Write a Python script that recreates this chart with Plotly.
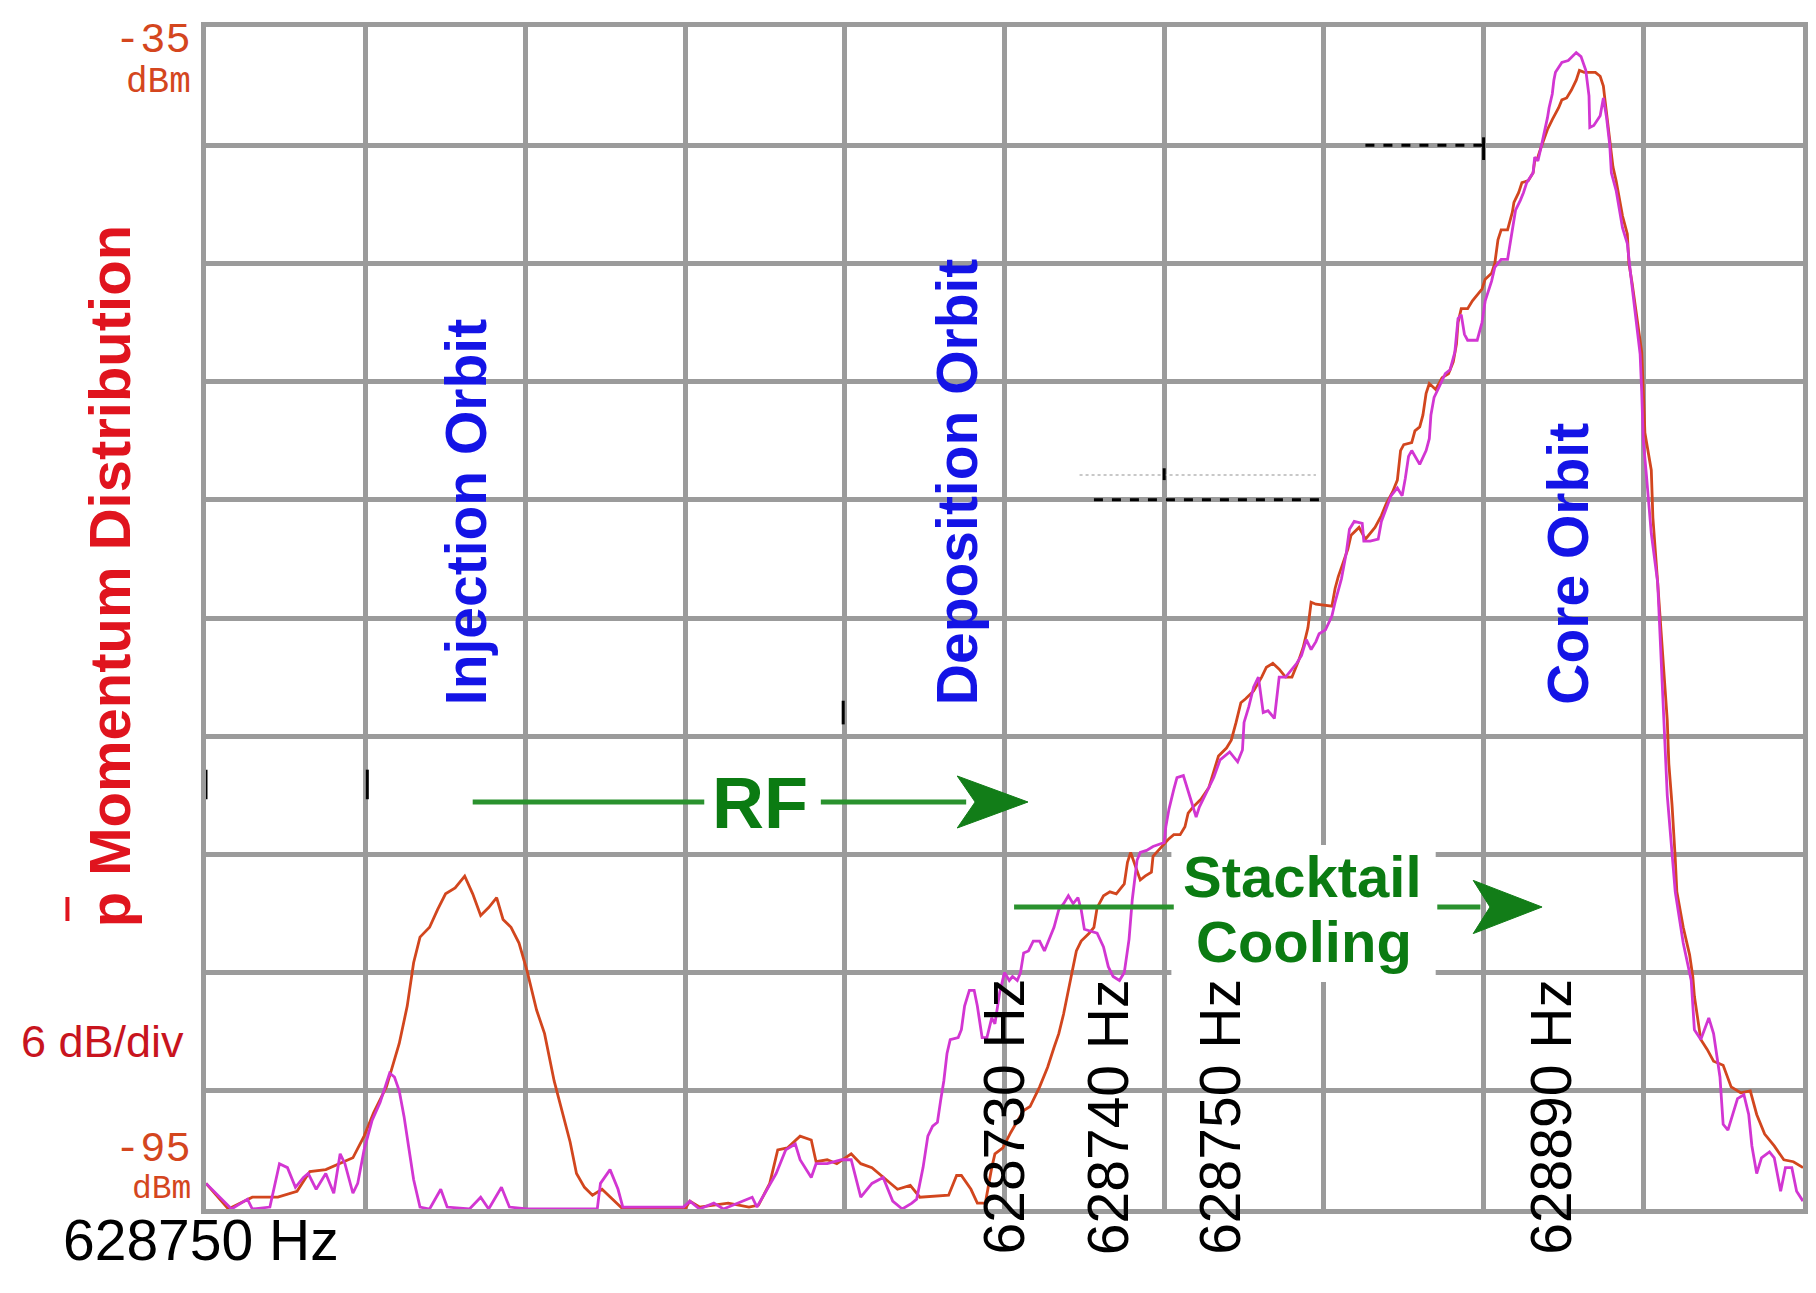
import plotly.graph_objects as go

# Spectrum-analyser trace of the antiproton stack.
# Horizontal: screen divisions (10 div across); vertical: level in dBm (6 dB/div).

orange_x = [0.00, 0.14, 0.29, 0.45, 0.57, 0.65, 0.75, 0.84, 0.92, 0.99, 1.05, 1.13, 1.21, 1.26, 1.30,
            1.34, 1.40, 1.45, 1.50, 1.56, 1.62, 1.67, 1.72, 1.77, 1.82, 1.86, 1.91, 1.96, 2.01, 2.07,
            2.12, 2.18, 2.23, 2.28, 2.32, 2.37, 2.42, 2.48, 2.61, 3.00, 3.03, 3.09, 3.18, 3.27, 3.40,
            3.46, 3.53, 3.58, 3.64, 3.72, 3.79, 3.82, 3.89, 3.95, 4.04, 4.10, 4.17, 4.24, 4.33, 4.41,
            4.47, 4.65, 4.70, 4.73, 4.79, 4.83, 4.88, 4.92, 4.94, 4.99, 5.04, 5.12, 5.16, 5.22, 5.27,
            5.31, 5.34, 5.37, 5.40, 5.42, 5.45, 5.48, 5.53, 5.56, 5.58, 5.62, 5.66, 5.70, 5.75, 5.77,
            5.79, 5.81, 5.85, 5.88, 5.92, 5.93, 6.00, 6.03, 6.06, 6.10, 6.13, 6.15, 6.18, 6.23, 6.28,
            6.31, 6.34, 6.39, 6.42, 6.45, 6.48, 6.51, 6.56, 6.61, 6.64, 6.68, 6.72, 6.76, 6.80, 6.84,
            6.87, 6.90, 6.92, 6.95, 7.05, 7.07, 7.09, 7.12, 7.15, 7.17, 7.22, 7.26, 7.32, 7.36, 7.39,
            7.43, 7.46, 7.48, 7.50, 7.55, 7.57, 7.60, 7.62, 7.64, 7.66, 7.70, 7.74, 7.78, 7.81, 7.83,
            7.84, 7.86, 7.90, 7.93, 7.96, 7.99, 8.01, 8.05, 8.07, 8.09, 8.11, 8.15, 8.18, 8.19, 8.22,
            8.24, 8.28, 8.31, 8.32, 8.34, 8.36, 8.38, 8.40, 8.43, 8.45, 8.47, 8.49, 8.52, 8.55, 8.58,
            8.60, 8.63, 8.67, 8.70, 8.73, 8.75, 8.76, 8.78, 8.79, 8.81, 8.83, 8.85, 8.87, 8.90, 8.91,
            8.93, 8.95, 8.97, 8.99, 9.00, 9.01, 9.05, 9.06, 9.09, 9.11, 9.13, 9.15, 9.16, 9.18, 9.20,
            9.21, 9.25, 9.29, 9.31, 9.32, 9.36, 9.40, 9.44, 9.50, 9.55, 9.61, 9.67, 9.71, 9.76, 9.82,
            9.88, 9.94, 10.00]
orange_y = [-93.7, -95.0, -94.4, -94.4, -94.1, -93.1, -93.0, -92.7, -92.4, -91.3, -90.1, -88.8, -86.6, -84.7, -82.5,
            -81.2, -80.7, -79.8, -79.0, -78.7, -78.1, -79.0, -80.1, -79.7, -79.2, -80.3, -80.7, -81.5, -82.9, -84.9,
            -86.1, -88.5, -90.1, -91.6, -93.2, -93.9, -94.3, -94.0, -95.0, -95.0, -94.6, -94.9, -94.8, -94.7, -94.9,
            -94.8, -93.7, -92.0, -91.9, -91.3, -91.5, -92.6, -92.5, -92.7, -92.2, -92.7, -92.9, -93.4, -94.0, -93.8,
            -94.4, -94.3, -93.3, -93.3, -94.0, -94.7, -94.7, -92.9, -92.2, -91.9, -91.1, -90.0, -89.8, -88.8, -87.8,
            -86.8, -86.1, -85.1, -84.0, -83.1, -81.9, -81.4, -81.0, -80.7, -79.7, -79.1, -78.9, -79.0, -78.5, -77.4,
            -76.9, -77.4, -78.3, -78.1, -77.9, -77.1, -76.5, -76.2, -76.0, -76.0, -75.6, -74.9, -74.6, -74.2, -73.6,
            -72.8, -72.0, -71.6, -71.2, -70.3, -69.3, -69.1, -68.7, -68.0, -67.5, -67.3, -67.6, -68.0, -68.0, -67.2,
            -66.5, -65.5, -64.2, -64.3, -64.4, -63.5, -62.9, -62.2, -61.5, -60.8, -60.4, -61.0, -60.4, -59.8, -59.2,
            -58.6, -58.0, -56.5, -56.2, -56.1, -55.5, -55.3, -54.7, -53.6, -53.1, -53.4, -52.8, -52.6, -52.0, -51.1,
            -50.0, -49.3, -49.3, -48.9, -48.6, -48.3, -47.8, -47.5, -47.0, -45.8, -45.3, -45.3, -44.4, -43.9, -43.4,
            -42.9, -42.8, -42.4, -41.8, -41.6, -41.1, -40.6, -40.2, -39.7, -39.4, -39.1, -38.7, -38.6, -38.2, -37.7,
            -37.2, -37.3, -37.3, -37.3, -37.5, -38.0, -38.7, -40.1, -40.7, -42.1, -42.8, -43.8, -44.6, -45.5, -47.0,
            -48.0, -49.2, -50.2, -51.5, -53.4, -55.6, -57.5, -59.9, -63.2, -65.6, -68.0, -70.2, -72.4, -74.5, -77.2,
            -78.9, -80.7, -82.1, -83.2, -84.2, -86.4, -86.9, -87.5, -87.7, -88.8, -89.1, -89.0, -90.2, -91.2, -91.8,
            -92.5, -92.6, -92.9]

magenta_x = [0.00, 0.16, 0.26, 0.29, 0.40, 0.46, 0.51, 0.56, 0.61, 0.64, 0.69, 0.75, 0.80, 0.84, 0.87,
             0.92, 0.95, 0.99, 1.04, 1.09, 1.15, 1.18, 1.21, 1.24, 1.27, 1.30, 1.34, 1.40, 1.47, 1.51,
             1.65, 1.72, 1.77, 1.85, 1.90, 2.01, 2.45, 2.47, 2.53, 2.58, 2.61, 2.99, 3.03, 3.09, 3.18,
             3.24, 3.42, 3.45, 3.57, 3.63, 3.69, 3.72, 3.79, 3.82, 3.89, 3.98, 4.04, 4.10, 4.17, 4.24,
             4.30, 4.36, 4.42, 4.45, 4.49, 4.52, 4.55, 4.58, 4.60, 4.62, 4.64, 4.66, 4.71, 4.73, 4.75,
             4.78, 4.81, 4.83, 4.86, 4.89, 4.92, 4.94, 4.97, 5.00, 5.03, 5.05, 5.08, 5.10, 5.12, 5.15,
             5.18, 5.22, 5.25, 5.28, 5.31, 5.34, 5.37, 5.40, 5.43, 5.46, 5.48, 5.50, 5.58, 5.62, 5.65,
             5.68, 5.72, 5.75, 5.78, 5.80, 5.82, 5.83, 5.85, 5.89, 5.93, 6.00, 6.01, 6.03, 6.06, 6.08,
             6.12, 6.16, 6.20, 6.22, 6.26, 6.31, 6.35, 6.41, 6.46, 6.49, 6.50, 6.53, 6.56, 6.59, 6.62,
             6.65, 6.69, 6.72, 6.76, 6.83, 6.86, 6.89, 6.92, 6.95, 6.97, 7.01, 7.05, 7.07, 7.11, 7.14,
             7.16, 7.19, 7.24, 7.25, 7.29, 7.34, 7.36, 7.39, 7.42, 7.46, 7.49, 7.51, 7.53, 7.55, 7.57,
             7.60, 7.64, 7.66, 7.67, 7.69, 7.72, 7.76, 7.79, 7.82, 7.84, 7.86, 7.88, 7.90, 7.96, 7.99,
             8.01, 8.05, 8.07, 8.11, 8.15, 8.18, 8.20, 8.23, 8.25, 8.27, 8.31, 8.32, 8.34, 8.36, 8.38,
             8.40, 8.41, 8.43, 8.44, 8.45, 8.49, 8.53, 8.58, 8.61, 8.64, 8.66, 8.665, 8.69, 8.73, 8.75,
             8.77, 8.79, 8.80, 8.83, 8.87, 8.90, 8.92, 8.94, 8.96, 8.98, 8.99, 9.00, 9.02, 9.05, 9.09,
             9.11, 9.15, 9.20, 9.25, 9.30, 9.32, 9.36, 9.41, 9.44, 9.48, 9.50, 9.53, 9.56, 9.59, 9.63,
             9.66, 9.68, 9.71, 9.74, 9.79, 9.82, 9.86, 9.89, 9.93, 9.96, 10.00]
magenta_y = [-93.7, -95.0, -94.5, -95.0, -94.9, -92.7, -92.9, -93.9, -93.4, -93.2, -94.0, -93.2, -94.2, -92.2, -92.7,
             -94.2, -93.7, -92.0, -90.5, -89.6, -88.1, -88.3, -89.0, -90.3, -91.9, -93.5, -94.9, -95.0, -94.0, -94.9,
             -95.0, -94.4, -95.0, -93.9, -94.9, -95.0, -95.0, -93.7, -93.0, -94.0, -94.9, -94.9, -94.6, -95.0, -94.7,
             -95.0, -94.4, -94.9, -93.2, -92.0, -91.7, -92.5, -93.4, -92.7, -92.7, -92.5, -92.5, -94.4, -93.7, -93.4,
             -94.6, -95.0, -94.7, -94.5, -92.9, -91.3, -90.8, -90.6, -89.5, -88.5, -87.1, -86.4, -86.3, -85.9, -84.7,
             -83.9, -83.9, -84.7, -86.3, -86.3, -85.3, -85.6, -84.0, -83.0, -83.4, -83.2, -83.4, -83.0, -82.0, -81.9,
             -81.4, -81.4, -81.9, -81.3, -80.7, -79.8, -79.5, -79.1, -79.5, -79.2, -79.8, -80.8, -81.0, -81.7, -82.7,
             -83.2, -83.4, -83.0, -81.3, -79.3, -78.1, -77.3, -76.9, -76.8, -76.6, -76.4, -75.6, -74.7, -73.7, -73.1,
             -73.0, -74.0, -75.1, -74.6, -73.9, -73.1, -72.2, -71.8, -72.3, -71.7, -70.3, -69.5, -68.5, -68.0, -69.8,
             -69.7, -70.1, -68.0, -68.0, -67.3, -66.9, -66.1, -66.6, -66.2, -65.8, -65.6, -64.9, -64.2, -63.0, -61.7,
             -60.5, -60.1, -60.2, -61.1, -61.1, -61.0, -60.1, -59.5, -58.8, -58.4, -58.8, -57.9, -56.8, -56.5, -56.8,
             -57.2, -56.5, -55.9, -54.7, -53.8, -53.3, -52.6, -52.4, -51.5, -49.8, -49.6, -50.6, -50.9, -50.9, -50.0,
             -48.9, -47.9, -47.2, -46.8, -46.8, -45.3, -44.3, -43.8, -43.4, -42.9, -42.4, -41.6, -41.8, -41.1, -40.4,
             -39.6, -39.1, -38.4, -37.7, -37.3, -36.8, -36.7, -36.3, -36.5, -37.2, -38.5, -40.1, -40.0, -39.5, -38.6,
             -39.6, -41.0, -42.4, -43.3, -45.2, -46.0, -47.5, -48.8, -50.0, -51.6, -53.5, -56.0, -57.8, -60.7, -63.2,
             -67.0, -74.0, -78.9, -81.5, -83.4, -85.9, -86.4, -85.3, -86.1, -88.3, -90.7, -91.0, -90.2, -89.4, -89.2,
             -90.2, -91.8, -93.2, -92.4, -92.1, -92.4, -94.1, -92.9, -92.9, -94.1, -94.6]

# Rotated frequency markers along the bottom
marker_labels = ["628730 Hz", "628740 Hz", "628750 Hz", "628890 Hz"]
marker_pos_px = [1006, 1111, 1223, 1555]

GRID = "#9b9b9b"
SANS = "Liberation Sans, Arial, sans-serif"
MONO = "Liberation Mono, Courier New, monospace"
ORANGE = "#d2461e"
MAGENTA = "#d236d2"
BLUE = "#1414e6"
GREEN_TXT = "#0b7b12"
GREEN_LINE = "#2a922e"
GREEN_HEAD = "#127d18"
RED_TXT = "#d4461e"

# plot frame in page pixels
L, T, W, H = 206, 27, 1602, 1182


def paper(xp, yp):
    return (xp - L) / W, (T + H - yp) / H


fig = go.Figure()
fig.add_trace(go.Scatter(x=orange_x, y=orange_y, mode="lines",
                         line=dict(color=ORANGE, width=2.8), hoverinfo="skip"))
fig.add_trace(go.Scatter(x=magenta_x, y=magenta_y, mode="lines",
                         line=dict(color=MAGENTA, width=2.8), hoverinfo="skip"))


def text(t, xp, yp, size, color, family=SANS, angle=0, xanchor="center", yanchor="middle"):
    xx, yy = paper(xp, yp)
    fig.add_annotation(text=t, x=xx, y=yy, xref="paper", yref="paper", showarrow=False,
                       textangle=angle, xanchor=xanchor, yanchor=yanchor, borderpad=0,
                       font=dict(family=family, size=size, color=color))


# level scale labels
text("-35", 192, 41, 42, RED_TXT, MONO, xanchor="right")
text("dBm", 192, 82, 36, RED_TXT, MONO, xanchor="right")
text("-95", 192, 1150, 42, RED_TXT, MONO, xanchor="right")
text("dBm", 192, 1189, 33, RED_TXT, MONO, xanchor="right")
text("6 dB/div", 185, 1041, 45, "#c8141e", xanchor="right")
text("628750 Hz", 62, 1240, 57, "black", xanchor="left")

# vertical title
text("<b>p Momentum Distribution</b>", 109, 576, 58, "#e0141e", angle=-90)

# orbit names
text("<b>Injection Orbit</b>", 467, 706, 57, BLUE, angle=-90, yanchor="bottom")
text("<b>Deposition Orbit</b>", 960, 706, 57, BLUE, angle=-90, yanchor="bottom")
text("<b>Core Orbit</b>", 1572, 706, 57, BLUE, angle=-90, yanchor="bottom")

# process labels
text("<b>RF</b>", 762, 803, 72, GREEN_TXT)
text("<b>Stacktail</b>", 1306, 876, 58, GREEN_TXT)
text("<b>Cooling</b>", 1307, 942, 58, GREEN_TXT)

for lab, xp in zip(marker_labels, marker_pos_px):
    text(lab, xp, 1256, 57, "black", angle=-90, yanchor="bottom")

shapes = []
# white patch behind the Stacktail Cooling label
shapes.append(dict(type="rect", xref="x", yref="y", x0=6.045, x1=7.70, y0=-83.48, y1=-76.52,
                   fillcolor="white", line=dict(width=0), layer="between"))


def hline(x0, x1, y, color, width, dash="solid"):
    shapes.append(dict(type="line", xref="x", yref="y", x0=x0, x1=x1, y0=y, y1=y,
                       line=dict(color=color, width=width, dash=dash)))


def vline(x, y0, y1, color="black", width=3):
    shapes.append(dict(type="line", xref="x", yref="y", x0=x, x1=x, y0=y0, y1=y1,
                       line=dict(color=color, width=width)))


def head(xb, xt, xn, y, hh):
    shapes.append(dict(type="path", xref="x", yref="y",
                       path=f"M {xb},{y + hh} L {xt},{y} L {xb},{y - hh} L {xn},{y} Z",
                       fillcolor=GREEN_HEAD, line=dict(color=GREEN_HEAD, width=1)))


# RF arrow
hline(1.67, 3.12, -74.34, GREEN_LINE, 5)
hline(3.85, 4.76, -74.34, GREEN_LINE, 5)
head(4.704, 5.147, 4.816, -74.34, 1.32)
# Stacktail arrow
hline(5.06, 6.06, -79.67, GREEN_LINE, 5)
hline(7.71, 7.98, -79.67, GREEN_LINE, 5)
head(7.935, 8.366, 8.04, -79.67, 1.35)

# marker readouts
hline(7.26, 8.0, -41.0, "black", 3, "dash")
vline(8.0, -40.6, -41.75)
hline(5.47, 6.95, -57.74, "#c8c8c8", 2, "dot")
hline(5.56, 7.0, -59.0, "black", 3, "dash")
vline(6.0, -57.4, -58.0)
vline(3.99, -69.2, -70.4)
vline(1.01, -72.7, -74.2)
vline(0.0, -72.7, -74.2)

# overbar of the antiproton symbol
bx, by0 = paper(67, 897)
_, by1 = paper(67, 921)
shapes.append(dict(type="line", xref="paper", yref="paper", x0=bx, x1=bx, y0=by0, y1=by1,
                   line=dict(color="#e0141e", width=4)))

fig.update_layout(
    width=1816, height=1293,
    margin=dict(l=L, r=1816 - L - W, t=T, b=1293 - T - H, pad=0),
    paper_bgcolor="white", plot_bgcolor="white",
    showlegend=False, shapes=shapes,
)
axis_style = dict(showticklabels=False, ticks="", showgrid=True, gridcolor=GRID, gridwidth=5,
                  zeroline=False, showline=True, linecolor=GRID, linewidth=5, mirror=True)
fig.update_xaxes(range=[0, 10], tick0=0, dtick=1, **axis_style)
fig.update_yaxes(range=[-95, -35], tick0=-95, dtick=6, **axis_style)

fig.write_html("out.html")
